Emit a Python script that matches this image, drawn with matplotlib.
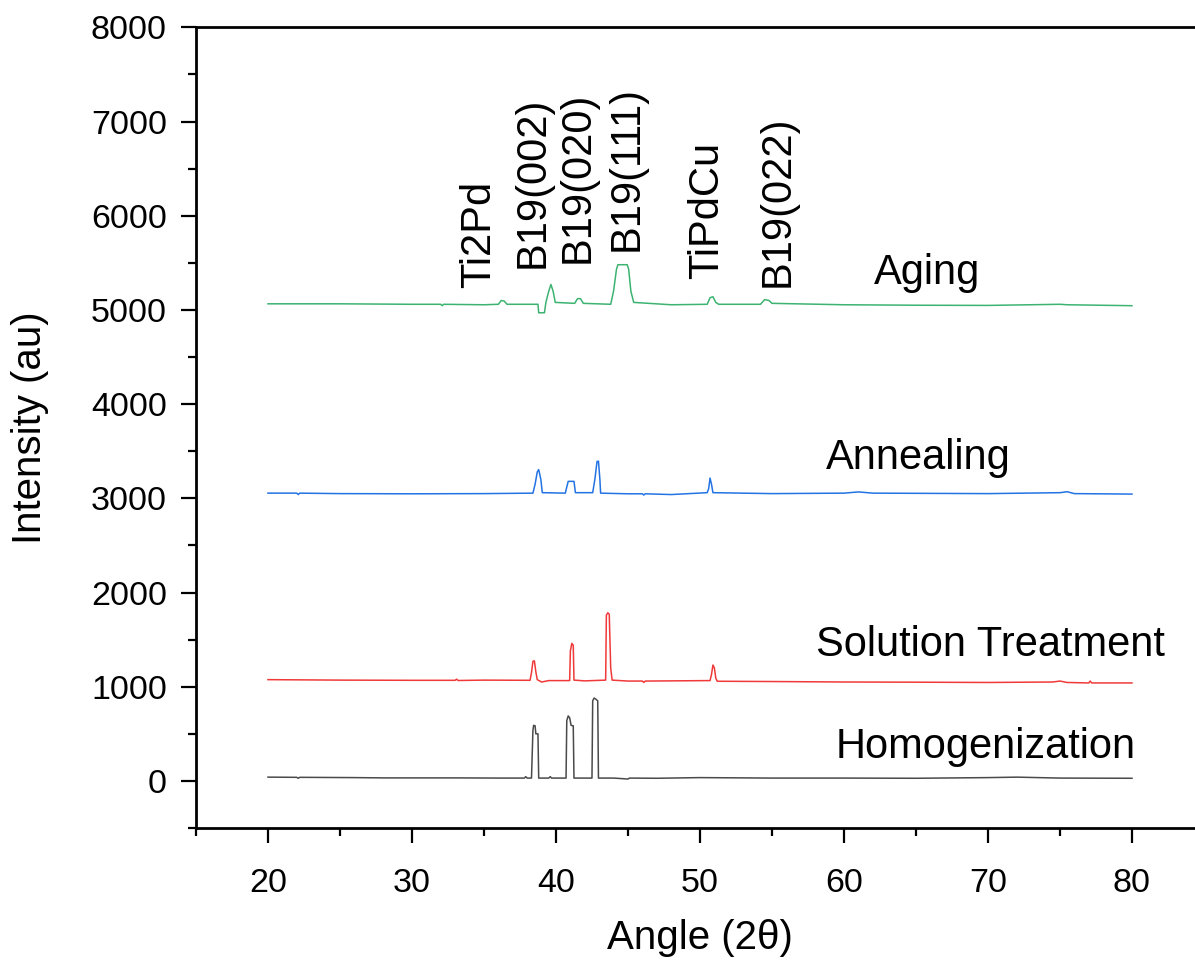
import matplotlib
matplotlib.use("Agg")
import matplotlib.pyplot as plt
from matplotlib.ticker import MultipleLocator
import numpy as np

plt.rcParams['font.family'] = ['Liberation Sans', 'DejaVu Sans']

# (angle, intensity) points
homogenization = [(20.0, 40), (22.0, 38), (22.1, 28), (22.2, 38), (26.0, 35), (28.0, 32),
                  (30.0, 32), (33.0, 32), (36.0, 30), (37.8, 30), (37.9, 45), (38.0, 30),
                  (38.3, 30), (38.4, 540), (38.45, 590), (38.55, 585),
                  (38.6, 500), (38.75, 500), (38.8, 30), (39.5, 30), (39.6, 45), (39.7, 30),
                  (40.7, 30), (40.75, 640), (40.85, 690), (40.95, 670), (41.05, 590),
                  (41.2, 585), (41.25, 30), (42.5, 30), (42.55, 850), (42.65, 880), (42.75, 870),
                  (42.9, 850), (42.95, 30), (44.0, 30), (45.0, 20), (45.1, 30), (47.0, 28),
                  (50.0, 35), (55.0, 30), (60.0, 30), (65.0, 28), (70.0, 35), (72.0, 40),
                  (75.0, 30), (80.0, 28)]

solution = [(20, 1075), (25, 1070), (30, 1068), (33.0, 1068), (33.1, 1080), (33.2, 1066),
            (35, 1070), (38.2, 1068), (38.3, 1150),
            (38.4, 1270), (38.5, 1275), (38.6, 1160), (38.7, 1075), (39, 1050), (39.5, 1065),
            (40.95, 1065), (41.0, 1380), (41.1, 1460), (41.2, 1440), (41.25, 1070), (42, 1062),
            (43.45, 1070), (43.5, 1760), (43.6, 1785), (43.7, 1770), (43.8, 1200), (43.9, 1070),
            (45, 1060), (46.0, 1060), (46.1, 1045), (46.2, 1060), (48, 1062), (50.7, 1065),
            (50.8, 1130), (50.9, 1230), (51.0, 1200), (51.1, 1090), (51.2, 1058), (55, 1055),
            (60, 1050), (65, 1048), (70, 1045), (74.5, 1050), (75, 1060), (75.5, 1045),
            (77, 1040), (77.1, 1060), (77.2, 1040), (80, 1040)]

annealing = [(20, 3055), (22.0, 3055), (22.1, 3040), (22.2, 3055), (25, 3050), (30, 3048),
             (35, 3050), (38.4, 3055), (38.55, 3150),
             (38.7, 3280), (38.8, 3305), (38.95, 3200), (39.05, 3060), (40.65, 3055),
             (40.75, 3120), (40.85, 3180), (41.25, 3180), (41.35, 3060), (42.55, 3060),
             (42.7, 3200), (42.85, 3390), (42.95, 3395), (43.05, 3200), (43.1, 3055),
             (45, 3048), (46.0, 3048), (46.1, 3035), (46.2, 3048), (48, 3040), (50.5, 3060),
             (50.6, 3100), (50.7, 3215), (50.8, 3150), (50.9, 3060), (55, 3050), (60, 3055),
             (61, 3068), (62, 3055), (70, 3050), (75, 3060), (75.5, 3070), (76, 3050),
             (80, 3045)]

aging = [(20, 5065), (25, 5065), (30, 5060), (32.0, 5060), (32.1, 5045), (32.2, 5060),
         (35, 5055), (36.0, 5060), (36.2, 5100),
         (36.4, 5095), (36.6, 5060), (38.75, 5060), (38.8, 4970), (39.2, 4970), (39.3, 5080),
         (39.5, 5200), (39.65, 5270), (39.8, 5200), (39.95, 5080), (41.3, 5070), (41.5, 5120),
         (41.7, 5120), (41.9, 5070), (43.8, 5060), (44.0, 5200), (44.2, 5430), (44.3, 5480),
         (44.95, 5480), (45.05, 5430), (45.2, 5200), (45.4, 5080), (48, 5055), (50.5, 5060),
         (50.7, 5130), (50.9, 5140), (51.1, 5080), (51.3, 5060), (54.2, 5060), (54.5, 5110),
         (54.8, 5100), (55.0, 5070), (60, 5055), (65, 5050), (70, 5048), (75, 5060),
         (75.5, 5055), (80, 5045)]

series = [homogenization, solution, annealing, aging]
colors = ['#4a4a4a', '#f03a3a', '#2373e3', '#3cb371']

names = ['Homogenization', 'Solution Treatment', 'Annealing', 'Aging']
name_x = [59.45, 58.05, 58.75, 62.1]
name_y = [244, 1328, 3313, 5280]

peaks = ['Ti2Pd', 'B19(002)', 'B19(020)', 'B19(111)', 'TiPdCu', 'B19(022)']
peak_x = [34.65, 38.4, 41.5, 44.9, 50.5, 55.4]
peak_y = [5237, 5440, 5500, 5630, 5330, 5240]

fig = plt.figure(figsize=(11.95, 9.6), dpi=100)
ax = fig.add_axes([0.164, 0.1375, 0.8435, 0.834])

for pts, c in zip(series, colors):
    xy = np.array(pts, dtype=float)
    ax.plot(xy[:, 0], xy[:, 1], color=c, lw=1.1)

for n, x, y in zip(names, name_x, name_y):
    ax.text(x, y, n, fontsize=30, ha='left', va='baseline')

for p, x, y in zip(peaks, peak_x, peak_y):
    ax.text(x, y, p, fontsize=30, rotation=90, ha='center', va='bottom')

ax.set_xlim(15, 85)
ax.set_ylim(-500, 8000)
ax.xaxis.set_major_locator(MultipleLocator(10))
ax.xaxis.set_minor_locator(MultipleLocator(5))
ax.yaxis.set_major_locator(MultipleLocator(1000))
ax.yaxis.set_minor_locator(MultipleLocator(500))
ax.tick_params(which='major', direction='out', length=11, width=1.6, labelsize=24.5, pad=10)
ax.tick_params(which='minor', direction='out', length=5.5, width=1.6)
ax.tick_params(axis='x', which='major', pad=18)
for s in ax.spines.values():
    s.set_linewidth(2)

ax.set_xlabel('Angle (2θ)', fontsize=29, labelpad=14)
ax.set_ylabel('Intensity (au)', fontsize=29, labelpad=30)

fig.savefig('out.png', dpi=100)
